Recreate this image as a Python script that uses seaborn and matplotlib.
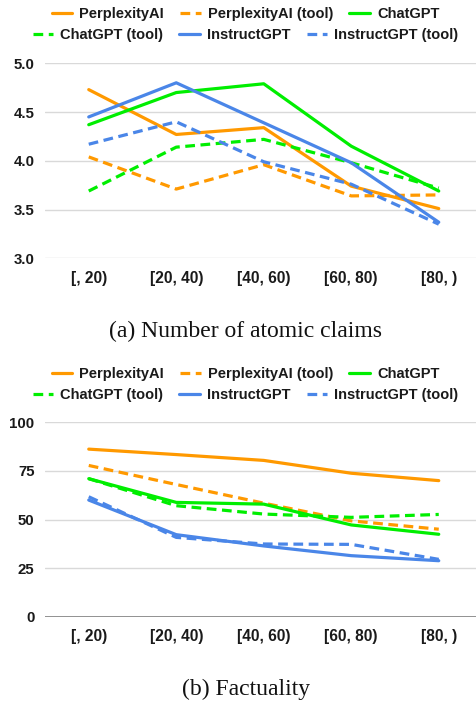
import matplotlib
matplotlib.use("Agg")
import matplotlib.pyplot as plt
import seaborn as sns
import pandas as pd
from matplotlib.lines import Line2D

# ---- data ----
bins = ["[, 20)", "[20, 40)", "[40, 60)", "[60, 80)", "[80, )"]
series_names = ["PerplexityAI", "PerplexityAI (tool)", "ChatGPT",
                "ChatGPT (tool)", "InstructGPT", "InstructGPT (tool)"]

claims_perplexity = [4.73, 4.27, 4.34, 3.74, 3.51]
claims_perplexity_tool = [4.04, 3.71, 3.96, 3.64, 3.65]
claims_chatgpt = [4.37, 4.70, 4.79, 4.15, 3.69]
claims_chatgpt_tool = [3.69, 4.14, 4.22, 3.98, 3.72]
claims_instruct = [4.45, 4.80, 4.39, 3.98, 3.37]
claims_instruct_tool = [4.17, 4.40, 3.99, 3.76, 3.35]

fact_perplexity = [86.2, 83.4, 80.4, 73.8, 70.0]
fact_perplexity_tool = [77.8, 68.0, 58.4, 49.3, 45.0]
fact_chatgpt = [71.0, 58.8, 57.9, 47.2, 42.4]
fact_chatgpt_tool = [71.0, 57.1, 52.8, 51.1, 52.6]
fact_instruct = [60.0, 42.2, 36.4, 31.4, 28.8]
fact_instruct_tool = [61.7, 40.8, 37.4, 37.2, 29.5]

claims_ticks = [3.0, 3.5, 4.0, 4.5, 5.0]
fact_ticks = [0, 25, 50, 75, 100]

caption_a = "(a) Number of atomic claims"
caption_b = "(b) Factuality"

# ---- styles ----
ORANGE = "#ff9900"
GREEN = "#00ee00"
BLUE = "#4a86e8"
palette = {"PerplexityAI": ORANGE, "PerplexityAI (tool)": ORANGE,
           "ChatGPT": GREEN, "ChatGPT (tool)": GREEN,
           "InstructGPT": BLUE, "InstructGPT (tool)": BLUE}
DASH = (7, 4)
dashes = {n: (DASH if "(tool)" in n else "") for n in series_names}

sns.set_theme(style="white")
plt.rcParams["font.family"] = ["Liberation Sans", "DejaVu Sans"]
plt.rcParams["lines.scale_dashes"] = False


def long_df(vals):
    rows = []
    for name, v in zip(series_names, vals):
        for b, y in zip(bins, v):
            rows.append({"bin": b, "value": y, "series": name})
    return pd.DataFrame(rows)


df_claims = long_df([claims_perplexity, claims_perplexity_tool, claims_chatgpt,
                     claims_chatgpt_tool, claims_instruct, claims_instruct_tool])
df_fact = long_df([fact_perplexity, fact_perplexity_tool, fact_chatgpt,
                   fact_chatgpt_tool, fact_instruct, fact_instruct_tool])

W, H = 476, 703
fig = plt.figure(figsize=(W / 100, H / 100), dpi=100)

LEFT = 45 / W
AW = 437.5 / W
ax1 = fig.add_axes([LEFT, 1 - 258.3 / H, AW, 195 / H])
ax2 = fig.add_axes([LEFT, 1 - 616.7 / H, AW, 194.4 / H])

LW = 2.3


def draw(ax, df, ticks, fmt, ylim, baseline_dark):
    sns.lineplot(data=df, x="bin", y="value", hue="series", style="series",
                 hue_order=series_names, style_order=series_names,
                 palette=palette, dashes=dashes, sort=False,
                 linewidth=LW, ax=ax, legend=False, zorder=3)
    ax.set_xlim(-0.5, 4.5)
    ax.set_ylim(*ylim)
    ax.set_yticks(ticks)
    ax.set_yticklabels([fmt(t) for t in ticks])
    ax.set_xlabel("")
    ax.set_ylabel("")
    for s in ax.spines.values():
        s.set_visible(False)
    ax.grid(axis="y", color="#d9d9d9", linewidth=1.0, zorder=0)
    ax.grid(axis="x", visible=False)
    ax.tick_params(axis="both", length=0)
    ax.tick_params(axis="x", pad=9, labelsize=11.2)
    ax.tick_params(axis="y", pad=7.5, labelsize=10.8)
    for lab in ax.get_xticklabels() + ax.get_yticklabels():
        lab.set_fontweight("bold")
        lab.set_color("#1a1a1a")
    if baseline_dark:
        ax.axhline(ylim[0], color="#8a8a8a", linewidth=1.3, zorder=1)


draw(ax1, df_claims, claims_ticks, lambda t: f"{t:.1f}", (3.0, 5.0), False)
draw(ax2, df_fact, fact_ticks, lambda t: f"{t:d}", (0, 100), True)


def handles_for(names):
    hs = []
    for n in names:
        if "(tool)" in n:
            hs.append(Line2D([], [], color=palette[n], linewidth=LW,
                             linestyle=(0, DASH)))
        else:
            hs.append(Line2D([], [], color=palette[n], linewidth=LW))
    return hs


def add_legend(y1, y2):
    for names, y in ((series_names[:3], y1), (series_names[3:], y2)):
        fig.legend(handles_for(names), names, loc="center",
                   bbox_to_anchor=(245.5 / W, 1 - y / H), ncol=3, frameon=False,
                   prop={"weight": "bold", "size": 10.5},
                   handlelength=1.4, handletextpad=0.5, columnspacing=1.1,
                   borderpad=0, borderaxespad=0, labelcolor="#1a1a1a")


add_legend(14, 35)
add_legend(374, 395)

fig.text(245.5 / W, 1 - 337.3 / H, caption_a, ha="center", va="baseline",
         family="Liberation Serif", size=17, color="#111111")
fig.text(246 / W, 1 - 695.5 / H, caption_b, ha="center", va="baseline",
         family="Liberation Serif", size=17, color="#111111")

fig.savefig("out.png", dpi=100)
